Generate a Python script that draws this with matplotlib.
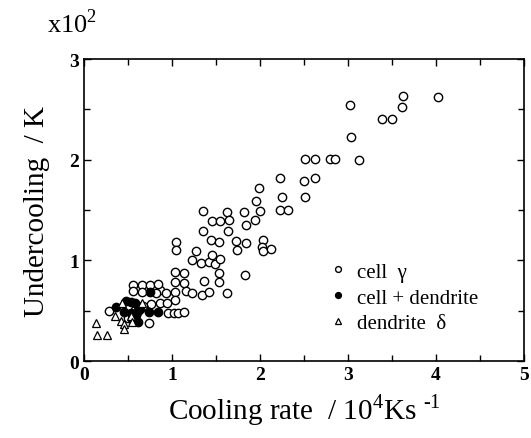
import matplotlib
matplotlib.use('Agg')
import matplotlib.pyplot as plt
from matplotlib.ticker import MultipleLocator

plt.rcParams['font.family'] = ['Liberation Serif', 'DejaVu Serif']
plt.rcParams['mathtext.fontset'] = 'custom'
plt.rcParams['mathtext.rm'] = 'Liberation Serif'

# cooling rate (10^4 K/s) and undercooling (10^2 K)
cell_x = [3.62, 4.02, 3.02, 3.61, 3.39, 3.50, 3.03,
          2.51, 2.62, 2.79, 2.85, 3.12,
          2.23, 2.50, 2.62, 2.25, 2.51, 1.95, 1.99,
          1.35, 1.62, 1.82, 2.00, 2.23, 2.32,
          1.45, 1.55, 1.65, 1.84, 1.94,
          1.35, 1.64,
          1.05, 1.44, 1.54, 1.73, 1.84, 2.04,
          1.05, 1.27, 1.74, 2.02, 2.03, 2.13,
          1.23, 1.33, 1.42, 1.46, 1.49, 1.55,
          1.04, 1.14, 1.54, 1.83,
          1.04, 1.14, 1.36, 1.53,
          0.86, 0.93, 1.04, 1.16, 1.23, 1.34, 1.42, 1.62,
          1.04, 0.86, 0.94,
          0.95, 1.02, 1.07, 1.14,
          0.56, 0.66, 0.75, 0.84,
          0.56, 0.66, 0.82, 0.76, 0.67, 0.58, 0.28, 0.74, 0.50]
cell_y = [2.63, 2.62, 2.54, 2.52, 2.41, 2.41, 2.23,
          2.01, 2.01, 2.01, 2.01, 2.00,
          1.82, 1.79, 1.82, 1.63, 1.63, 1.59, 1.72,
          1.49, 1.48, 1.48, 1.49, 1.50, 1.50,
          1.39, 1.39, 1.40, 1.35, 1.40,
          1.29, 1.29,
          1.18, 1.20, 1.18, 1.19, 1.17, 1.20,
          1.10, 1.09, 1.10, 1.13, 1.09, 1.11,
          1.00, 0.98, 0.99, 1.05, 0.97, 1.01,
          0.89, 0.88, 0.88, 0.86,
          0.79, 0.78, 0.80, 0.79,
          0.71, 0.68, 0.69, 0.70, 0.68, 0.66, 0.69, 0.68,
          0.61, 0.58, 0.58,
          0.48, 0.48, 0.48, 0.49,
          0.76, 0.76, 0.76, 0.77,
          0.70, 0.69, 0.68, 0.57, 0.55, 0.51, 0.50, 0.38, 0.43]

mixed_x = [0.75, 0.36, 0.48, 0.54, 0.58, 0.61, 0.64, 0.45, 0.54, 0.61,
           0.74, 0.84, 0.58, 0.55, 0.61, 0.59]
mixed_y = [0.69, 0.54, 0.60, 0.59, 0.58, 0.55, 0.52, 0.49, 0.48, 0.50,
           0.49, 0.49, 0.45, 0.42, 0.39, 0.46]

dend_x = [0.43, 0.66, 0.35, 0.42, 0.53, 0.45, 0.55, 0.46, 0.14, 0.15, 0.26]
dend_y = [0.58, 0.58, 0.45, 0.40, 0.45, 0.37, 0.39, 0.32, 0.38, 0.26, 0.26]

fig = plt.figure(figsize=(5.31, 4.39), dpi=100)
ax = fig.add_axes([0.158, 0.175, 0.829, 0.688])

ax.plot(cell_x, cell_y, 'o', mfc='white', mec='black', mew=1.0, ms=6, label='cell  γ')
ax.plot(mixed_x, mixed_y, 'o', mfc='black', mec='black', mew=1.0, ms=6, label='cell + dendrite')
ax.plot(dend_x, dend_y, '^', mfc='white', mec='black', mew=0.9, ms=5.5, label='dendrite  δ')

ax.set_xlim(0, 5)
ax.set_ylim(0, 3)
ax.xaxis.set_major_locator(MultipleLocator(1))
ax.xaxis.set_minor_locator(MultipleLocator(0.5))
ax.yaxis.set_major_locator(MultipleLocator(1))
ax.yaxis.set_minor_locator(MultipleLocator(0.5))
ax.tick_params(which='both', direction='in', top=True, right=True, width=1)
ax.tick_params(which='major', length=5, labelsize=14)
ax.tick_params(which='minor', length=4)
for lab in ax.get_xticklabels() + ax.get_yticklabels():
    lab.set_fontweight('bold')
for s in ax.spines.values():
    s.set_linewidth(1.2)

ax.set_xlabel(r'Cooling rate  / 10$^{4}$Ks $^{\text{-}1}$', fontsize=21, labelpad=6)
ax.set_ylabel('Undercooling  / K', fontsize=21, labelpad=14)
fig.text(0.088, 0.925, r'x10$^{2}$', fontsize=19)

leg = ax.legend(loc='lower right', bbox_to_anchor=(0.939, 0.03), frameon=False,
                fontsize=15, markerscale=0.7, handlelength=0.6, handletextpad=0.6,
                labelspacing=0.3)

fig.savefig('out.png', dpi=100)
